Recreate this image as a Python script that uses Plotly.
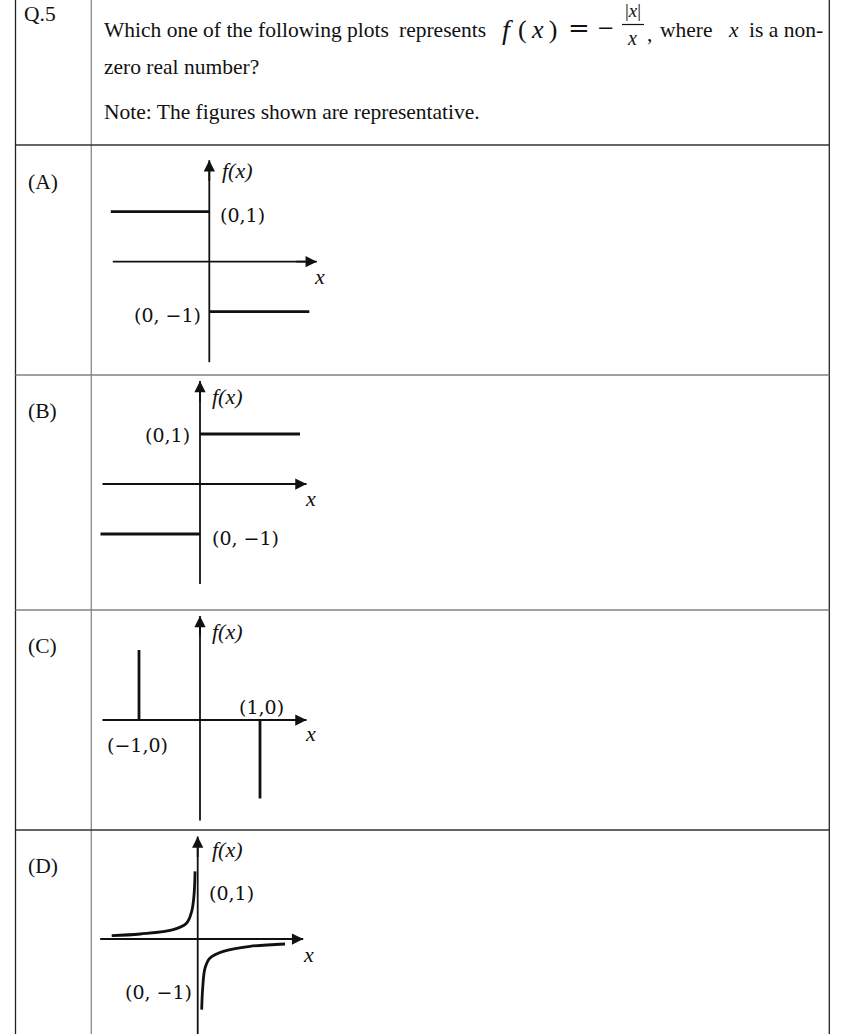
import plotly.graph_objects as go

W, H = 845, 1034
PX = 50  # pixels per unit inside the little plots
SERIF = "Liberation Serif"
MATH = "DejaVu Serif"
INK = "#111111"

# ---- values (plot units) ----
# (A)
a_upper_x = [-1.97, 0.0]
a_upper_y = [1.0, 1.0]
a_lower_x = [0.0, 2.0]
a_lower_y = [-1.0, -1.0]
# (B)
b_upper_x = [0.0, 2.0]
b_upper_y = [1.0, 1.0]
b_lower_x = [-1.99, 0.0]
b_lower_y = [-1.0, -1.0]
# (C)
c_left_x = [-1.22, -1.22]
c_left_y = [0.0, 1.4]
c_right_x = [1.2, 1.2]
c_right_y = [0.0, -1.57]
# (D)
d_left_x = [-1.72, -1.15, -0.49, -0.22, -0.12, -0.073, -0.053]
d_left_y = [0.067, 0.10, 0.187, 0.32, 0.553, 0.887, 1.353]
d_right_x = [0.08, 0.10, 0.147, 0.247, 0.513, 1.047, 1.747]
d_right_y = [-1.413, -0.98, -0.58, -0.38, -0.247, -0.147, -0.10]

option_names = ["(A)", "(B)", "(C)", "(D)"]
a_labels = ["<i>f(x)</i>", "(0,1)", "(0, \u22121)", "<i>x</i>"]
b_labels = ["<i>f(x)</i>", "(0,1)", "(0, \u22121)", "<i>x</i>"]
c_labels = ["<i>f(x)</i>", "(1,0)", "(\u22121,0)", "<i>x</i>"]
d_labels = ["<i>f(x)</i>", "(0,1)", "(0, \u22121)", "<i>x</i>"]


def fx(p):
    return p / W


def fy(p):
    return 1 - p / H


# where each little plot sits on the page
panels = [
    dict(box=(147, 373), origin=(209.3, 261.7), xspan=(-1.93, 2.15), yspan=(-2.01, 2.03),
         tag_y=182, curves=[(a_upper_x, a_upper_y), (a_lower_x, a_lower_y)], shape="linear",
         labels=a_labels, pos=[(0.21, 1.83, "left"), (0.17, 0.93, "left"),
                               (-0.13, -1.07, "right"), (2.21, -0.30, "center")]),
    dict(box=(377, 608), origin=(200, 484), xspan=(-1.95, 2.13), yspan=(-2.0, 2.06),
         tag_y=411, curves=[(b_upper_x, b_upper_y), (b_lower_x, b_lower_y)], shape="linear",
         labels=b_labels, pos=[(0.20, 1.75, "left"), (-0.17, 0.98, "right"),
                               (0.20, -1.08, "left"), (2.20, -0.28, "center")]),
    dict(box=(612, 828), origin=(200, 720), xspan=(-1.95, 2.13), yspan=(-2.01, 2.08),
         tag_y=646, curves=[(c_left_x, c_left_y), (c_right_x, c_right_y)], shape="linear",
         labels=c_labels, pos=[(0.20, 1.77, "left"), (1.22, 0.27, "center"),
                               (-1.26, -0.50, "center"), (2.20, -0.26, "center")]),
    dict(box=(832, 1034), origin=(197.7, 939), xspan=(-1.95, 2.11), yspan=(-1.95, 2.05),
         tag_y=866, curves=[(d_left_x, d_left_y), (d_right_x, d_right_y)], shape="spline",
         labels=d_labels, pos=[(0.25, 1.79, "left"), (0.18, 0.92, "left"),
                               (-0.79, -1.05, "center"), (2.21, -0.31, "center")]),
]

fig = go.Figure()
annotations = []
shapes = []

# table rules
for xv, col in [(15.5, "#222222"), (91.3, "#8a8a8a"), (829.3, "#222222")]:
    shapes.append(dict(type="line", xref="paper", yref="paper", x0=fx(xv), x1=fx(xv),
                       y0=0, y1=1, line=dict(color=col, width=1.3)))
for yv, col in [(145, "#333333"), (375, "#808080"), (610, "#7d857d"), (830, "#333333")]:
    shapes.append(dict(type="line", xref="paper", yref="paper", x0=fx(15.5), x1=fx(829.3),
                       y0=fy(yv), y1=fy(yv), line=dict(color=col, width=1.3)))


def page_text(txt, x, y, size=21.5, anchor="left", family=SERIF):
    annotations.append(dict(text=txt, x=fx(x), y=fy(y), xref="paper", yref="paper",
                            xanchor=anchor, yanchor="middle", showarrow=False,
                            font=dict(family=family, size=size, color=INK)))


# question text
page_text("Q.5", 22, 14)
page_text("Which one of the following plots", 102, 30)
page_text("represents", 488, 30, anchor="right")
page_text("<i>f</i>", 507, 29, size=28, anchor="center")
page_text("(\u2009<i>x</i>\u2009)", 537, 29, size=26, anchor="center")
page_text("=", 579, 28, size=26, anchor="center", family=MATH)
page_text("\u2212", 606, 28, size=21, anchor="center", family=MATH)
page_text("|<i>x</i>|", 633, 11, size=19, anchor="center")
page_text("<i>x</i>", 632, 38, size=20, anchor="center")
shapes.append(dict(type="line", xref="paper", yref="paper", x0=fx(622), x1=fx(644),
                   y0=fy(24.5), y1=fy(24.5), line=dict(color=INK, width=1.2)))
page_text(",", 645, 34, size=21.5)
page_text("where", 658, 30)
page_text("<i>x</i>", 733, 30, size=21.5, anchor="center")
page_text("is a non-", 825, 30, anchor="right")
page_text("zero real number?", 102, 67)
page_text("Note: The figures shown are representative.", 102, 112)

for i, p in enumerate(panels, start=1):
    xr = "x" if i == 1 else f"x{i}"
    yr = "y" if i == 1 else f"y{i}"
    ox, oy = p["origin"]
    top, bot = p["box"]
    fig.update_layout(**{
        ("xaxis" if i == 1 else f"xaxis{i}"): dict(
            domain=[fx(95), fx(345)], range=[(95 - ox) / PX, (345 - ox) / PX],
            visible=False, anchor=yr, fixedrange=True),
        ("yaxis" if i == 1 else f"yaxis{i}"): dict(
            domain=[fy(bot), fy(top)], range=[(oy - bot) / PX, (oy - top) / PX],
            visible=False, anchor=xr, fixedrange=True),
    })

    # coordinate axes with arrow heads
    x0, x1 = p["xspan"]
    y0, y1 = p["yspan"]
    fig.add_trace(go.Scatter(x=[x0, x1], y=[0, 0], mode="lines", xaxis=xr, yaxis=yr,
                             line=dict(color=INK, width=1.8), hoverinfo="skip"))
    fig.add_trace(go.Scatter(x=[0, 0], y=[y0, y1], mode="lines", xaxis=xr, yaxis=yr,
                             line=dict(color=INK, width=1.8), hoverinfo="skip"))
    annotations.append(dict(x=x1, y=0, xref=xr, yref=yr, ax=-22, ay=0, text="",
                            showarrow=True, arrowhead=2, arrowsize=1.25, arrowwidth=1.8,
                            arrowcolor=INK))
    annotations.append(dict(x=0, y=y1, xref=xr, yref=yr, ax=0, ay=22, text="",
                            showarrow=True, arrowhead=2, arrowsize=1.25, arrowwidth=1.8,
                            arrowcolor=INK))

    # the plotted function pieces
    for cx, cy in p["curves"]:
        fig.add_trace(go.Scatter(x=cx, y=cy, mode="lines", xaxis=xr, yaxis=yr,
                                 line=dict(color=INK, width=2.8, shape=p["shape"]),
                                 hoverinfo="skip"))

    for txt, (lx, ly, anc) in zip(p["labels"], p["pos"]):
        if txt.startswith("<i>"):
            fnt = dict(family=SERIF, size=22, color=INK)
        else:
            fnt = dict(family=MATH, size=19, color=INK)
        annotations.append(dict(text=txt, x=lx, y=ly, xref=xr, yref=yr, xanchor=anc,
                                yanchor="middle", showarrow=False, font=fnt))

    page_text(option_names[i - 1], 26, p["tag_y"])

fig.update_layout(width=W, height=H, margin=dict(l=0, r=0, t=0, b=0),
                  paper_bgcolor="white", plot_bgcolor="white", showlegend=False,
                  shapes=shapes, annotations=annotations)

# the page's default body margin would push the figure 8px down/right
fig.write_html("out.html", config={"displayModeBar": False},
               post_script="document.body.style.margin='0px';")
